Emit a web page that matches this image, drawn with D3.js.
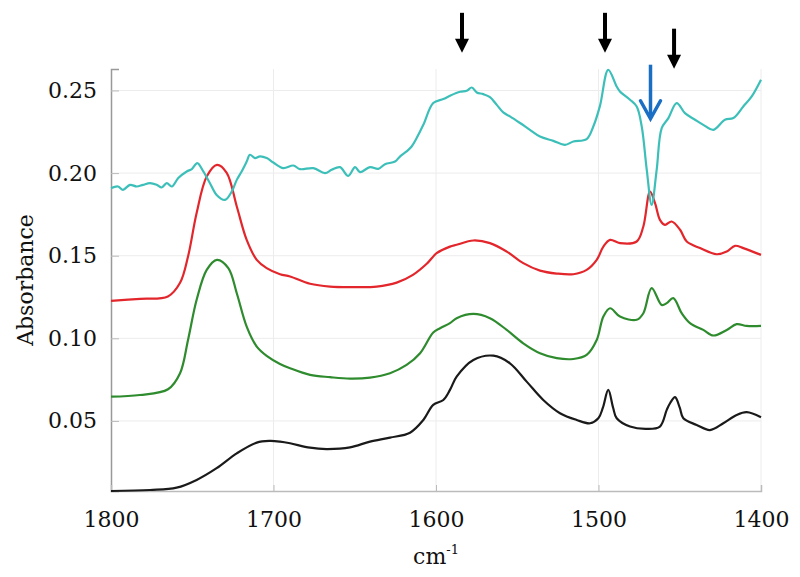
<!DOCTYPE html>
<html>
<head>
<meta charset="utf-8">
<script src="https://cdn.jsdelivr.net/npm/d3@7"></script>
<style>
  html, body { margin: 0; padding: 0; background: #fff; }
  svg { display: block; }
</style>
</head>
<body>
<svg id="chart" width="800" height="577"></svg>
<script>
// ---- data (wavenumber in cm-1, absorbance) ----
const xTicks = [1800, 1700, 1600, 1500, 1400];
const yTicks = [0.05, 0.10, 0.15, 0.20, 0.25];
const yTickLabels = ["0.05", "0.10", "0.15", "0.20", "0.25"];

const cyanWn = [1800,1795.7,1792.6,1788.3,1784.2,1780.3,1776,1771.9,1768.8,1765.7,1762.6,1758.6,1753.4,1750.3,1746.9,1743.2,1739.1,1735,1729.8,1725.7,1722.6,1719.6,1716.5,1714.5,1711.4,1708.3,1704.2,1700.1,1694,1687.8,1683.7,1675.5,1668.3,1664.2,1659.1,1654,1649.8,1646.8,1640.6,1635.5,1631.4,1625.2,1622.2,1618.1,1615,1611.9,1607.8,1601.7,1595.5,1591.4,1585.2,1581.1,1578,1574.9,1570.9,1566.8,1562.6,1558.6,1554.5,1548.3,1542.2,1536,1527.8,1520.6,1515.5,1507.3,1503.2,1499.1,1494,1488.8,1486.8,1480.6,1476.5,1473.4,1470.3,1467.3,1464.2,1461.1,1457,1451.9,1446.8,1440.6,1435.5,1429.3,1422.2,1417,1410.9,1405.7,1400];
const cyanAbs = [0.1909,0.1919,0.1899,0.1929,0.1919,0.1929,0.1939,0.1929,0.1913,0.1939,0.1919,0.197,0.201,0.2024,0.206,0.201,0.1939,0.1868,0.1838,0.1888,0.1959,0.201,0.207,0.2111,0.2091,0.2101,0.2091,0.2064,0.203,0.2046,0.2024,0.203,0.2,0.202,0.2036,0.1983,0.2036,0.2006,0.2036,0.2026,0.2054,0.207,0.21,0.2131,0.2161,0.2212,0.2292,0.2424,0.2448,0.2468,0.2492,0.2498,0.2518,0.2488,0.2478,0.246,0.2413,0.2367,0.2343,0.2303,0.2262,0.2221,0.2195,0.2171,0.2191,0.2206,0.2282,0.2407,0.2625,0.2524,0.2494,0.2444,0.2403,0.2282,0.202,0.1808,0.202,0.2272,0.2333,0.2424,0.2363,0.2323,0.2292,0.2262,0.2323,0.2333,0.2403,0.2464,0.2565];

const redWn = [1800,1782,1765,1757.5,1752.6,1747.3,1741.1,1734.8,1728.8,1722.6,1716.5,1710.3,1704.2,1696,1689.8,1677.5,1665.2,1651.1,1636.5,1624.2,1614.2,1605.7,1599.6,1591.4,1587.3,1577,1566.8,1556.5,1546.3,1536,1525.7,1515.5,1507.3,1501.1,1497,1492.9,1486.8,1476.5,1472.4,1468.3,1465.2,1462.2,1459.1,1455,1449.8,1445.7,1437.5,1427.3,1421.1,1416,1410.9,1400];
const redAbs = [0.1227,0.1239,0.1253,0.1336,0.1495,0.1759,0.1979,0.205,0.2002,0.1798,0.1596,0.1475,0.1425,0.1388,0.1374,0.133,0.1313,0.131,0.1313,0.1337,0.1384,0.1451,0.1515,0.1555,0.1566,0.1592,0.1576,0.1525,0.1455,0.141,0.1392,0.1388,0.1414,0.1475,0.1555,0.1596,0.1576,0.1586,0.1677,0.1888,0.1818,0.1717,0.1687,0.1707,0.1657,0.1586,0.1546,0.1509,0.1525,0.156,0.1546,0.1505];

const greenWn = [1800,1782.2,1764.9,1757.5,1752.6,1747.3,1741.1,1734.8,1727.8,1722.6,1716.5,1710.3,1704.2,1696,1689.8,1677.5,1665.2,1652.9,1640.6,1628.3,1618.1,1609.8,1601.7,1597.5,1591.4,1587.3,1577,1566.8,1556.5,1546.3,1536,1525.7,1515.5,1507.3,1501.1,1497,1492.9,1486.8,1476.5,1472.4,1467.3,1461.1,1458,1454,1448.8,1443.7,1435.5,1429.3,1421.1,1415,1408.8,1400];
const greenAbs = [0.0647,0.0657,0.0692,0.0789,0.099,0.1233,0.1414,0.1475,0.1425,0.1273,0.1071,0.095,0.0894,0.0845,0.0819,0.0779,0.0765,0.0756,0.0762,0.0789,0.0839,0.091,0.1035,0.1061,0.1092,0.1122,0.1148,0.1122,0.1051,0.097,0.091,0.088,0.0875,0.09,0.099,0.1132,0.1182,0.1132,0.1112,0.1152,0.1304,0.1202,0.1213,0.1243,0.1152,0.1092,0.1051,0.1017,0.1051,0.1086,0.1075,0.1075];

const blackWn = [1800,1776,1759.6,1747.3,1735,1722.6,1710.3,1702.2,1696,1689.8,1677.5,1667.3,1652.9,1640.6,1628.3,1616,1607.8,1601.7,1595.5,1591.4,1587.3,1577,1564.7,1554.5,1544.2,1534,1523.7,1513.4,1505.2,1500.1,1497.3,1494,1491,1488.8,1480.6,1470.3,1462.2,1458,1455.8,1452.9,1450,1447.8,1439.6,1431.4,1423.2,1415,1408.8,1400];
const blackAbs = [0.0076,0.0082,0.0096,0.0143,0.0214,0.0304,0.0369,0.0379,0.0375,0.0365,0.0338,0.033,0.034,0.0375,0.0399,0.0429,0.0506,0.0597,0.0627,0.0688,0.0768,0.0869,0.0895,0.0849,0.0738,0.0627,0.0547,0.0506,0.0486,0.0516,0.058,0.0688,0.058,0.0516,0.0466,0.0452,0.0466,0.0567,0.061,0.0644,0.058,0.0516,0.0476,0.0445,0.0486,0.0536,0.0553,0.0522];

// annotation arrows: wavenumber, top and tip absorbance
const blackArrowWn = [1584, 1496, 1453.5];
const blackArrowTop = [0.2970, 0.2970, 0.2874];
const blackArrowTip = [0.2728, 0.2728, 0.2631];
const blueArrowWn = [1468];
const blueArrowTop = [0.2656];
const blueArrowTip = [0.2329];

// ---- chart ----
const svg = d3.select("#chart");
const x = d3.scaleLinear().domain([1800, 1400]).range([111, 761]);
const y = d3.scaleLinear().domain([0.0076, 0.263]).range([491, 69]);
const SERIF = "'DejaVu Serif', serif";
const FS = 22;

// grid
const grid = svg.append("g");
grid.selectAll("line.h").data(yTicks).join("line")
  .attr("x1", x(1800)).attr("x2", x(1400))
  .attr("y1", d => y(d)).attr("y2", d => y(d))
  .attr("stroke", "#ececec").attr("stroke-width", 1);
grid.selectAll("line.v").data(xTicks.slice(1)).join("line")
  .attr("x1", d => x(d)).attr("x2", d => x(d))
  .attr("y1", y.range()[1]).attr("y2", y.range()[0])
  .attr("stroke", "#ececec").attr("stroke-width", 1);

// axes
const yAxis = d3.axisLeft(y).tickValues(yTicks).tickSize(-8).tickFormat((d, i) => yTickLabels[i]).tickPadding(14);
const gy = svg.append("g").attr("transform", `translate(${x(1800)},0)`).call(yAxis);
gy.select(".domain").attr("stroke", "#999").attr("stroke-width", 1.5);
gy.selectAll(".tick line").attr("stroke", "#bbb");
gy.selectAll(".tick text").attr("font-size", FS).style("font-family", SERIF).attr("fill", "#111");

const xAxis = d3.axisBottom(x).tickValues(xTicks).tickSize(-6).tickFormat(d3.format("d")).tickPadding(20);
const gx = svg.append("g").attr("transform", `translate(0,${y.range()[0]})`).call(xAxis);
gx.select(".domain").attr("stroke", "#bbb").attr("stroke-width", 1.5);
gx.selectAll(".tick line").attr("stroke", "#bbb");
gx.selectAll(".tick text").attr("font-size", FS).style("font-family", SERIF).attr("fill", "#111");

// series
const series = [
  {wn: blackWn, ab: blackAbs, color: "#1a1a1a"},
  {wn: greenWn, ab: greenAbs, color: "#2e8b2e"},
  {wn: redWn, ab: redAbs, color: "#e3262b"},
  {wn: cyanWn, ab: cyanAbs, color: "#3dbfb9"}
];
series.forEach(s => {
  const pts = s.wn.map((w, i) => [w, s.ab[i]]);
  const line = d3.line().x(d => x(d[0])).y(d => y(d[1])).curve(d3.curveCatmullRom.alpha(0.5));
  svg.append("path").datum(pts).attr("d", line)
    .attr("fill", "none").attr("stroke", s.color).attr("stroke-width", 2.2)
    .attr("stroke-linejoin", "round");
});

// arrows
blackArrowWn.forEach((w, i) => {
  const ax = x(w), y0 = y(blackArrowTop[i]), y1 = y(blackArrowTip[i]);
  svg.append("line").attr("x1", ax).attr("x2", ax).attr("y1", y0).attr("y2", y1 - 12)
    .attr("stroke", "#000").attr("stroke-width", 4);
  svg.append("path").attr("d", `M${ax - 7},${y1 - 14} L${ax + 7},${y1 - 14} L${ax},${y1} Z`).attr("fill", "#000");
});
blueArrowWn.forEach((w, i) => {
  const ax = x(w), y0 = y(blueArrowTop[i]), y1 = y(blueArrowTip[i]);
  svg.append("line").attr("x1", ax).attr("x2", ax).attr("y1", y0).attr("y2", y1 - 2)
    .attr("stroke", "#1a6ec4").attr("stroke-width", 3.5);
  svg.append("path").attr("d", `M${ax - 10},${y1 - 18} L${ax},${y1} L${ax + 10},${y1 - 18}`)
    .attr("fill", "none").attr("stroke", "#1a6ec4").attr("stroke-width", 3.5).attr("stroke-linecap", "round");
});

// axis titles
svg.append("text").attr("transform", "translate(33,280) rotate(-90)")
  .attr("text-anchor", "middle").attr("font-size", FS).style("font-family", SERIF).attr("fill", "#111").text("Absorbance");
const xt = svg.append("text").attr("x", 436).attr("y", 564).attr("text-anchor", "middle")
  .attr("font-size", FS).style("font-family", SERIF).attr("fill", "#111");
xt.append("tspan").text("cm");
xt.append("tspan").attr("font-size", 13).attr("dy", -10).text("-1");
</script>
</body>
</html>
